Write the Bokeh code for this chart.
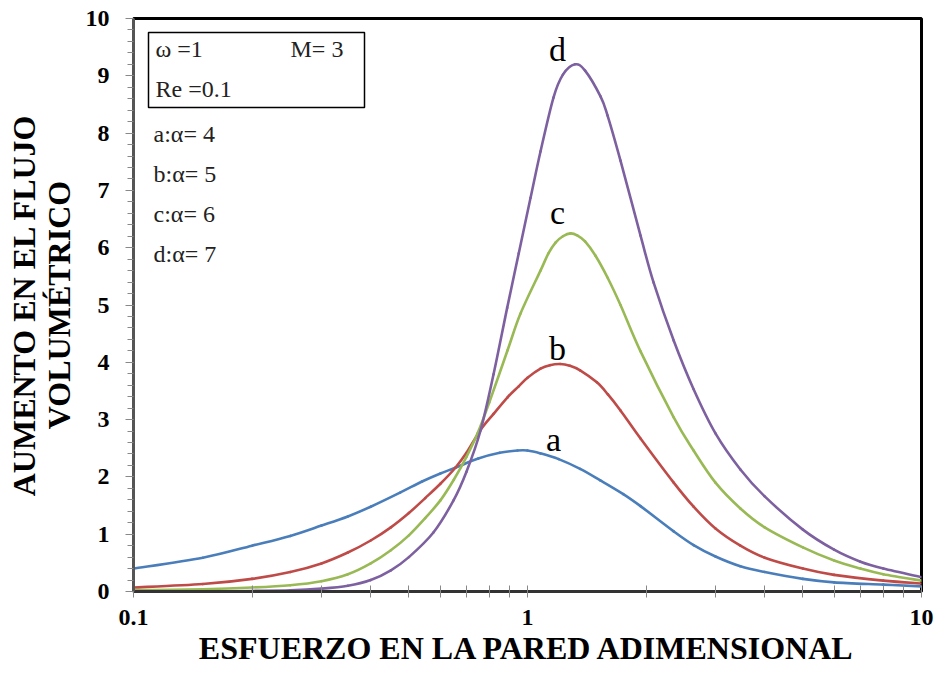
import math

from bokeh.plotting import figure
from bokeh.models import (FixedTicker, SingleIntervalTicker, CustomJSTickFormatter,
                          Label, BoxAnnotation, ColumnDataSource)
from bokeh.embed import file_html
from bokeh.resources import INLINE

# Dimensionless wall shear stress (log scale) and volumetric flow increase
xa = [0.1, 0.15, 0.2, 0.25, 0.3, 0.35, 0.4, 0.476, 0.54, 0.601, 0.656, 0.75, 0.85, 0.943,
      1.0, 1.079, 1.2, 1.36, 1.53, 1.75, 1.936, 2.35, 2.64, 3.0, 3.47, 4.0, 5.0,
      6.0, 8.0, 10.0]
ya = [0.40, 0.59, 0.80, 0.97, 1.15, 1.31, 1.48, 1.73, 1.92, 2.06, 2.16, 2.32, 2.42, 2.46,
      2.46, 2.41, 2.31, 2.14, 1.94, 1.70, 1.49, 1.05, 0.81, 0.61, 0.44, 0.34, 0.22,
      0.16, 0.12, 0.09]

xb = [0.1, 0.15, 0.2, 0.25, 0.3, 0.35, 0.4, 0.45, 0.5, 0.55, 0.601, 0.656, 0.7, 0.76,
      0.82, 0.89, 0.95, 1.0, 1.079, 1.14, 1.21, 1.28, 1.36, 1.5, 1.6, 1.722, 1.936,
      2.35, 2.64, 3.0, 3.47, 4.0, 5.0, 6.0, 8.0, 10.0]
yb = [0.07, 0.13, 0.22, 0.34, 0.49, 0.68, 0.89, 1.12, 1.37, 1.63, 1.88, 2.16, 2.42, 2.82,
      3.10, 3.39, 3.58, 3.73, 3.89, 3.95, 3.97, 3.94, 3.86, 3.65, 3.44, 3.16, 2.67,
      1.90, 1.48, 1.10, 0.80, 0.59, 0.40, 0.29, 0.19, 0.14]

xc = [0.1, 0.15, 0.2, 0.25, 0.3, 0.35, 0.4, 0.45, 0.5, 0.55, 0.601, 0.65, 0.7, 0.747,
      0.8, 0.89, 0.96, 1.079, 1.13, 1.178, 1.23, 1.286, 1.34, 1.4, 1.488, 1.596, 1.722,
      1.936, 2.35, 2.64, 3.0, 3.47, 4.0, 5.0, 6.0, 7.0, 8.0, 10.0]
yc = [0.02, 0.04, 0.07, 0.11, 0.18, 0.30, 0.49, 0.72, 0.98, 1.28, 1.59, 1.95, 2.35, 2.76,
      3.30, 4.21, 4.85, 5.60, 5.90, 6.09, 6.20, 6.25, 6.21, 6.11, 5.86, 5.48, 5.00,
      4.19, 3.04, 2.46, 1.90, 1.45, 1.12, 0.77, 0.54, 0.40, 0.30, 0.19]

xd = [0.1, 0.15, 0.2, 0.25, 0.3, 0.35, 0.4, 0.45, 0.5, 0.577, 0.649, 0.7, 0.76, 0.82,
      0.888, 0.95, 1.018, 1.079, 1.164, 1.23, 1.32, 1.40, 1.532, 1.596, 1.722, 1.936,
      2.09, 2.35, 2.64, 3.0, 3.47, 4.0, 5.0, 6.0, 7.0, 8.0, 10.0]
yd = [0.00, 0.00, 0.01, 0.02, 0.05, 0.10, 0.20, 0.37, 0.60, 1.03, 1.59, 2.09, 2.81, 3.79,
      4.95, 5.90, 6.87, 7.68, 8.62, 9.02, 9.20, 9.09, 8.64, 8.31, 7.52, 6.21,
      5.39, 4.38, 3.53, 2.76, 2.13, 1.66, 1.08, 0.73, 0.52, 0.40, 0.25]

series = [
    ("a", xa, ya, "#4a7ebb"),
    ("b", xb, yb, "#be4b48"),
    ("c", xc, yc, "#98b954"),
    ("d", xd, yd, "#7d60a0"),
]

x_major = [0.1, 1, 10]
x_minor = [0.2, 0.3, 0.4, 0.5, 0.6, 0.7, 0.8, 0.9, 2, 3, 4, 5, 6, 7, 8, 9]

SERIF = "Liberation Serif"


def smooth_segments(xs, ys):
    """Catmull-Rom style cubic segments through the points (in log-x space),
    returned as Bezier endpoint/control columns for a log x axis."""
    u = [math.log10(v) for v in xs]
    n = len(u)
    cols = {k: [] for k in ("x0", "y0", "x1", "y1", "cx0", "cy0", "cx1", "cy1")}
    for i in range(n - 1):
        i0, i2, i3 = max(i - 1, 0), i + 1, min(i + 2, n - 1)
        c0u = u[i] + (u[i2] - u[i0]) / 6.0
        c0y = ys[i] + (ys[i2] - ys[i0]) / 6.0
        c1u = u[i2] - (u[i3] - u[i]) / 6.0
        c1y = ys[i2] - (ys[i3] - ys[i]) / 6.0
        cols["x0"].append(xs[i]); cols["y0"].append(ys[i])
        cols["x1"].append(xs[i2]); cols["y1"].append(ys[i2])
        cols["cx0"].append(10 ** c0u); cols["cy0"].append(c0y)
        cols["cx1"].append(10 ** c1u); cols["cy1"].append(c1y)
    return cols


p = figure(width=938, height=675, x_axis_type="log", x_range=(0.1, 10), y_range=(0, 10),
           output_backend="svg", toolbar_location=None,
           min_border_left=133, min_border_right=17, min_border_top=18, min_border_bottom=84)
p.background_fill_color = "white"
p.border_fill_color = "white"
p.outline_line_color = "black"
p.outline_line_width = 3
p.xgrid.visible = False
p.ygrid.visible = False

for name, xs, ys, col in series:
    src = ColumnDataSource(smooth_segments(xs, ys))
    p.bezier(x0="x0", y0="y0", x1="x1", y1="y1", cx0="cx0", cy0="cy0", cx1="cx1",
             cy1="cy1", source=src, line_color=col, line_width=2.6, line_cap="round")

# x axis
xax = p.xaxis[0]
xax.ticker = FixedTicker(ticks=x_major, minor_ticks=x_minor)
xax.formatter = CustomJSTickFormatter(code="return tick.toString();")
xax.axis_label = "ESFUERZO EN LA PARED ADIMENSIONAL"
xax.axis_label_text_font = SERIF
xax.axis_label_text_font_style = "bold"
xax.axis_label_text_font_size = "32px"
xax.axis_label_text_color = "black"
xax.axis_label_standoff = 2
xax.major_label_text_font = SERIF
xax.major_label_text_font_style = "bold"
xax.major_label_text_font_size = "24px"
xax.major_label_text_color = "black"
xax.major_label_standoff = 12
xax.axis_line_color = "#333333"
xax.axis_line_width = 3
xax.major_tick_line_color = "#888888"
xax.minor_tick_line_color = "#888888"
xax.major_tick_in = 6
xax.major_tick_out = 6
xax.minor_tick_in = 6
xax.minor_tick_out = 6

# y axis
yax = p.yaxis[0]
yax.ticker = SingleIntervalTicker(interval=1, num_minor_ticks=5)
yax.axis_label = "AUMENTO EN EL FLUJO\nVOLUMÉTRICO"
yax.axis_label_text_font = SERIF
yax.axis_label_text_font_style = "bold"
yax.axis_label_text_font_size = "32px"
yax.axis_label_text_line_height = 0.95
yax.axis_label_text_color = "black"
yax.axis_label_standoff = 6
yax.major_label_text_font = SERIF
yax.major_label_text_font_style = "bold"
yax.major_label_text_font_size = "24px"
yax.major_label_text_color = "black"
yax.major_label_standoff = 16
yax.axis_line_color = "#555555"
yax.axis_line_width = 3
yax.major_tick_line_color = "#888888"
yax.minor_tick_line_color = "#888888"
yax.major_tick_in = 0
yax.major_tick_out = 8
yax.minor_tick_in = 0
yax.minor_tick_out = 6


def at(px, py):
    """Frame pixel position -> data coordinates for annotation placement."""
    return 10 ** ((px - 527) / 394.0), (591 - py) / 57.3


# parameter box
bl, bb = at(148, 107)
br, bt = at(364, 32)
p.add_layout(BoxAnnotation(left=bl, right=br, bottom=bb, top=bt, fill_alpha=0,
                           line_color="black", line_alpha=1.0, line_width=1.5))

param_texts = [
    ("ω =1", 155, 48),
    ("M= 3", 290, 48),
    ("Re =0.1", 155, 88),
    ("a:α= 4", 153, 133),
    ("b:α= 5", 153, 173),
    ("c:α= 6", 153, 213),
    ("d:α= 7", 153, 253),
]
for txt, px, py in param_texts:
    x, y = at(px, py)
    p.add_layout(Label(x=x, y=y, text=txt, text_font=SERIF, text_font_size="24px",
                       text_color="#222222", text_baseline="alphabetic", text_align="left"))

# curve tags
tags = [("a", 553, 439), ("b", 557, 348), ("c", 557, 212), ("d", 557, 49)]
for txt, px, py in tags:
    x, y = at(px, py)
    p.add_layout(Label(x=x, y=y, text=txt, text_font=SERIF, text_font_size="34px",
                       text_color="black", text_baseline="alphabetic", text_align="center"))

open("out.html", "w").write(file_html(p, INLINE))
